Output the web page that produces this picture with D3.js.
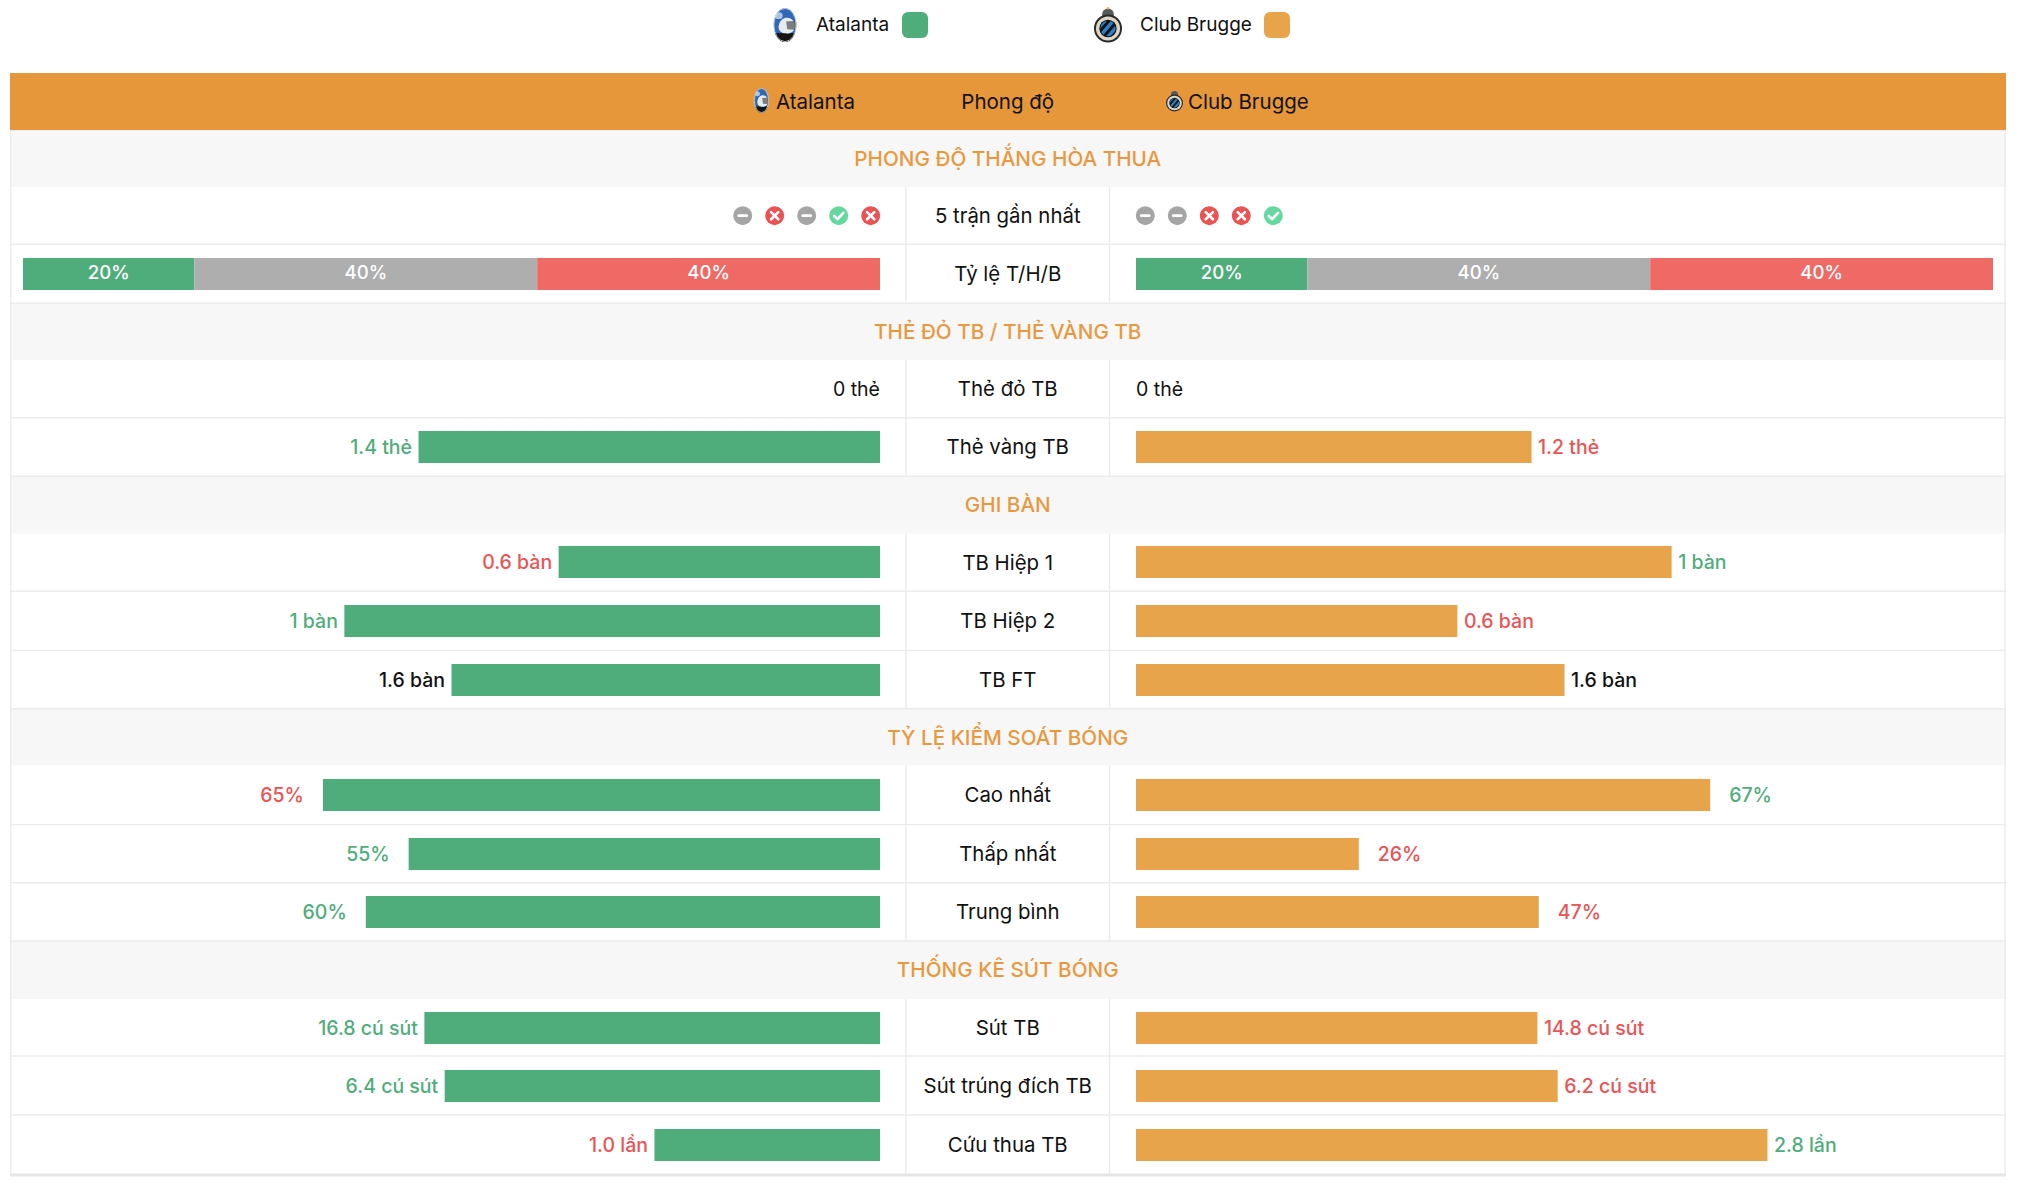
<!DOCTYPE html>
<html lang="vi">
<head>
<meta charset="utf-8">
<title>Atalanta - Club Brugge</title>
<script src="https://cdn.jsdelivr.net/npm/d3@7/dist/d3.min.js"></script>
<style>
html,body{margin:0;padding:0;background:#fff;overflow:hidden}
svg{display:block}
text{font-family:Inter,"Noto Sans",sans-serif;-webkit-font-smoothing:antialiased}
</style>
</head>
<body>
<div id="chart"></div>
<script>
// ---------- data ----------
const teams = ["Atalanta", "Club Brugge"];
const headerMiddle = "Phong độ";
const sectionTitles = ["PHONG ĐỘ THẮNG HÒA THUA", "THẺ ĐỎ TB / THẺ VÀNG TB", "GHI BÀN", "TỶ LỆ KIỂM SOÁT BÓNG", "THỐNG KÊ SÚT BÓNG"];
const formLabel = "5 trận gần nhất";
const formA = ["D", "L", "D", "W", "L"];
const formB = ["D", "D", "L", "L", "W"];
const rateLabel = "Tỷ lệ T/H/B";
const rateA = [20, 40, 40];
const rateB = [20, 40, 40];
const cardLabels = ["Thẻ đỏ TB", "Thẻ vàng TB"];
const cardA = [0, 1.4];
const cardB = [0, 1.2];
const cardTexts = [["0 thẻ", "0 thẻ"], ["1.4 thẻ", "1.2 thẻ"]];
const goalLabels = ["TB Hiệp 1", "TB Hiệp 2", "TB FT"];
const goalA = [0.6, 1, 1.6];
const goalB = [1, 0.6, 1.6];
const goalTexts = [["0.6 bàn", "1 bàn"], ["1 bàn", "0.6 bàn"], ["1.6 bàn", "1.6 bàn"]];
const possessionLabels = ["Cao nhất", "Thấp nhất", "Trung bình"];
const possessionA = [65, 55, 60];
const possessionB = [67, 26, 47];
const shotLabels = ["Sút TB", "Sút trúng đích TB", "Cứu thua TB"];
const shotA = [16.8, 6.4, 1.0];
const shotB = [14.8, 6.2, 2.8];
const shotTexts = [["16.8 cú sút", "14.8 cú sút"], ["6.4 cú sút", "6.2 cú sút"], ["1.0 lần", "2.8 lần"]];

// ---------- rows ----------
const metric = (label, a, b, texts, total, gap) => ({type: "metric", label, a, b, texts, total, gap});
const rows = [];
rows.push({type: "section", title: sectionTitles[0]});
rows.push({type: "form", label: formLabel, a: formA, b: formB});
rows.push({type: "rate", label: rateLabel, a: rateA, b: rateB});
rows.push({type: "section", title: sectionTitles[1]});
cardLabels.forEach((l, i) => rows.push(metric(l, cardA[i], cardB[i], cardTexts[i], cardA[i] + cardB[i], 6.5)));
rows.push({type: "section", title: sectionTitles[2]});
goalLabels.forEach((l, i) => rows.push(metric(l, goalA[i], goalB[i], goalTexts[i], goalA[i] + goalB[i], 6.5)));
rows.push({type: "section", title: sectionTitles[3]});
possessionLabels.forEach((l, i) => rows.push(metric(l, possessionA[i], possessionB[i], [possessionA[i] + "%", possessionB[i] + "%"], 100, 19)));
rows.push({type: "section", title: sectionTitles[4]});
shotLabels.forEach((l, i) => rows.push(metric(l, shotA[i], shotB[i], shotTexts[i], shotA[i] + shotB[i], 6.5)));

// ---------- layout ----------
const W = 2020, H = 1188;
const C = {green: "#4fad7b", orange: "#e8a44a", head: "#e6973a", title: "#e8993f", grey: "#aeaeae", red: "#ef6a65",
  txtRed: "#e95454", txtGreen: "#4fad7b", line: "#ebebeb", band: "#f7f7f7", ink: "#111",
  iconGrey: "#a5a5a5", iconRed: "#e85454", iconGreen: "#65d8a0"};
const tableL = 10, tableR = 2006, colL = 906, colR = 1109.5, midX = (colL + colR) / 2;
const leftEdge = 880, rightEdge = 1136, barW = 857, barH = 32;
const headTop = 73, headBottom = 130;
const rowHeights = [57, 57.3, 59, 56.7, 57.7, 58.6, 57.3, 57.6, 59.2, 58.4, 56.7, 59.1, 58.2, 58.2, 58, 57, 59, 60];

const svg = d3.select("#chart").append("svg").attr("width", W).attr("height", H).attr("viewBox", `0 0 ${W} ${H}`);
const share = d3.scaleLinear().domain([0, 1]).range([0, barW]);
const rateScale = d3.scaleLinear().domain([0, 100]).range([0, barW]);
const fs = 19.5;

let cursor = headBottom;
rows.forEach((r, i) => {
  r.h = rowHeights[i];
  r.top = cursor; cursor += r.h; r.mid = r.top + r.h / 2;
  r.barY = Math.round(r.mid - barH / 2);
});
const tableBottom = cursor;

// ---------- crests ----------
function atalanta(g, cx, cy, rx, ry) {
  const id = "a" + Math.round(cx);
  g.append("clipPath").attr("id", id).append("ellipse").attr("cx", cx).attr("cy", cy).attr("rx", rx).attr("ry", ry);
  const c = g.append("g").attr("clip-path", `url(#${id})`);
  c.append("ellipse").attr("cx", cx).attr("cy", cy).attr("rx", rx).attr("ry", ry).attr("fill", "#2f68b5");
  c.append("rect").attr("x", cx - rx).attr("y", cy + ry * .48).attr("width", rx * 2).attr("height", ry).attr("fill", "#141414");
  c.append("path").attr("d", d3.line().curve(d3.curveBasisClosed)([[cx - rx * .55, cy - ry * .1], [cx - rx * .1, cy - ry * .5], [cx + rx * .9, cy - ry * .35], [cx + rx * .9, cy + ry * .45], [cx - rx * .1, cy + ry * .55], [cx - rx * .6, cy + ry * .3]])).attr("fill", "#e8ebee");
  c.append("path").attr("d", d3.line()([[cx + rx * .1, cy - ry * .2], [cx + rx, cy - ry * .25], [cx + rx, cy + ry * .3], [cx + rx * .2, cy + ry * .25]])).attr("fill", "#55585c").attr("opacity", .75);
  c.append("ellipse").attr("cx", cx - rx * .55).attr("cy", cy - ry * .55).attr("rx", rx * .35).attr("ry", ry * .2).attr("fill", "#a9c6ea");
  g.append("ellipse").attr("cx", cx).attr("cy", cy).attr("rx", rx - .4).attr("ry", ry - .4).attr("fill", "none").attr("stroke", "#d6dbe2").attr("stroke-width", .8);
}
function brugge(g, cx, cy, r, crown) {
  const id = "b" + Math.round(cx);
  g.append("circle").attr("cx", cx).attr("cy", cy - r * 1).attr("r", r * .42).attr("fill", "#55585c");
  g.append("circle").attr("cx", cx).attr("cy", cy).attr("r", r).attr("fill", "#2b2b2b");
  g.append("circle").attr("cx", cx).attr("cy", cy).attr("r", r * .86).attr("fill", "#dcd6c4");
  g.append("circle").attr("cx", cx).attr("cy", cy).attr("r", r * .62).attr("fill", "#111");
  g.append("clipPath").attr("id", id).append("circle").attr("cx", cx).attr("cy", cy).attr("r", r * .55);
  const c = g.append("g").attr("clip-path", `url(#${id})`);
  [-.7, -.1, .5].forEach(k => c.append("line")
    .attr("x1", cx + r * (k - .6)).attr("y1", cy + r * .7).attr("x2", cx + r * (k + .6)).attr("y2", cy - r * .7)
    .attr("stroke", "#2c80c8").attr("stroke-width", r * .25));
  if (crown) g.append("circle").attr("cx", cx).attr("cy", cy - r * 1.45).attr("r", 1.3).attr("fill", "#e7b04a");
}

// ---------- legend ----------
const legend = svg.append("g");
atalanta(legend, 785, 25, 11.5, 17);
legend.append("text").attr("x", 816).attr("y", 30.5).attr("font-size", 19).attr("fill", C.ink).text(teams[0]);
legend.append("rect").attr("x", 902).attr("y", 12).attr("width", 26).attr("height", 26).attr("rx", 6).attr("fill", C.green);
brugge(legend, 1108, 28.5, 14, true);
legend.append("text").attr("x", 1140).attr("y", 30.5).attr("font-size", 19).attr("fill", C.ink).text(teams[1]);
legend.append("rect").attr("x", 1264).attr("y", 12).attr("width", 26).attr("height", 26).attr("rx", 6).attr("fill", C.orange);

// ---------- header ----------
const head = svg.append("g");
head.append("rect").attr("x", tableL).attr("y", headTop).attr("width", tableR - tableL).attr("height", headBottom - headTop).attr("fill", C.head);
atalanta(head, 761.5, 100.5, 7.5, 12.5);
head.append("text").attr("x", 776).attr("y", 109).attr("font-size", 20.5).attr("fill", C.ink).text(teams[0]);
head.append("text").attr("x", midX).attr("y", 109).attr("text-anchor", "middle").attr("font-size", 20.5).attr("fill", C.ink).text(headerMiddle);
brugge(head, 1174.5, 103, 8.5, false);
head.append("text").attr("x", 1188).attr("y", 109).attr("font-size", 20.5).attr("fill", C.ink).text(teams[1]);

// ---------- table frame ----------
const body = svg.append("g");
body.selectAll("rect.band").data(rows.filter(r => r.type === "section")).join("rect").attr("class", "band")
  .attr("x", tableL).attr("y", d => d.top).attr("width", tableR - tableL).attr("height", d => d.h).attr("fill", C.band);
body.selectAll("line.rowline").data(rows.filter(r => r.type !== "section")).join("line").attr("class", "rowline")
  .attr("x1", tableL).attr("x2", tableR).attr("y1", d => d.top + d.h).attr("y2", d => d.top + d.h)
  .attr("stroke", C.line).attr("stroke-width", 1.4);
["l", "r"].forEach((s, i) => {
  const x = i ? colR : colL;
  body.selectAll("line.col" + s).data(rows.filter(r => r.type !== "section")).join("line").attr("class", "col" + s)
    .attr("x1", x).attr("x2", x).attr("y1", d => d.top).attr("y2", d => d.top + d.h).attr("stroke", C.line).attr("stroke-width", 1.4);
});
[tableL + .6, tableR - 1].forEach(x => body.append("line").attr("x1", x).attr("x2", x).attr("y1", headBottom).attr("y2", tableBottom).attr("stroke", C.line).attr("stroke-width", 1.4));
body.append("line").attr("x1", tableL).attr("x2", tableR).attr("y1", tableBottom).attr("y2", tableBottom).attr("stroke", "#e6e6e6").attr("stroke-width", 3);
body.append("line").attr("x1", tableL).attr("x2", tableR).attr("y1", headBottom + .5).attr("y2", headBottom + .5).attr("stroke", C.line).attr("stroke-width", 1.2);

// ---------- section titles ----------
svg.selectAll("text.section").data(rows.filter(r => r.type === "section")).join("text").attr("class", "section")
  .attr("x", midX).attr("y", d => d.mid).attr("dy", ".36em").attr("text-anchor", "middle")
  .attr("font-size", 20.7).attr("font-weight", 500).attr("fill", C.title).text(d => d.title);

// ---------- row labels ----------
svg.selectAll("text.rowlabel").data(rows.filter(r => r.type !== "section")).join("text").attr("class", "rowlabel")
  .attr("x", midX).attr("y", d => d.mid).attr("dy", ".36em").attr("text-anchor", "middle")
  .attr("font-size", 20.4).attr("fill", C.ink).text(d => d.label);

// ---------- form icons ----------
function icon(g, cx, cy, kind) {
  const r = 9.5;
  g.append("circle").attr("cx", cx).attr("cy", cy).attr("r", r)
    .attr("fill", kind === "W" ? C.iconGreen : kind === "L" ? C.iconRed : C.iconGrey);
  const stroke = p => g.append("path").attr("d", d3.line()(p)).attr("fill", "none").attr("stroke", "#fff").attr("stroke-width", 2.6).attr("stroke-linecap", "round").attr("stroke-linejoin", "round");
  if (kind === "D") stroke([[cx - 4, cy], [cx + 4, cy]]);
  if (kind === "L") { stroke([[cx - 3.6, cy - 3.6], [cx + 3.6, cy + 3.6]]); stroke([[cx - 3.6, cy + 3.6], [cx + 3.6, cy - 3.6]]); }
  if (kind === "W") stroke([[cx - 4.5, cy + .3], [cx - 1.2, cy + 3.4], [cx + 4.7, cy - 2.8]]);
}
const formRow = rows.find(r => r.type === "form");
const iconStep = d3.scalePoint().domain(d3.range(5)).range([0, 128]);
const iconsG = svg.append("g");
formRow.a.forEach((k, i) => icon(iconsG, 742.7 + iconStep(i), formRow.mid, k));
formRow.b.forEach((k, i) => icon(iconsG, 1145.3 + iconStep(i), formRow.mid, k));

// ---------- result rate bars ----------
const rateRow = rows.find(r => r.type === "rate");
const rateColors = [C.green, C.grey, C.red];
[[rateRow.a, leftEdge - barW], [rateRow.b, rightEdge]].forEach(([vals, x0]) => {
  const stacked = d3.cumsum(vals);
  const g = svg.append("g");
  g.selectAll("rect").data(vals).join("rect")
    .attr("x", (d, i) => x0 + rateScale(stacked[i] - d)).attr("y", rateRow.barY)
    .attr("width", d => rateScale(d)).attr("height", barH).attr("fill", (d, i) => rateColors[i]);
  g.selectAll("text").data(vals).join("text")
    .attr("x", (d, i) => x0 + rateScale(stacked[i] - d / 2)).attr("y", rateRow.mid - 1).attr("dy", ".36em")
    .attr("text-anchor", "middle").attr("font-size", 18.6).attr("font-weight", 500).attr("fill", "#fff").text(d => d + "%");
});

// ---------- metric bars ----------
const metrics = rows.filter(r => r.type === "metric");
const valueColor = (v, o) => v > o ? C.txtGreen : v < o ? C.txtRed : C.ink;
const width = (v, d) => d.total ? share(v / d.total) : 0;
svg.selectAll("rect.barA").data(metrics).join("rect").attr("class", "barA")
  .attr("x", d => leftEdge - width(d.a, d)).attr("y", d => d.barY)
  .attr("width", d => width(d.a, d)).attr("height", barH).attr("fill", C.green);
svg.selectAll("rect.barB").data(metrics).join("rect").attr("class", "barB")
  .attr("x", rightEdge).attr("y", d => d.barY)
  .attr("width", d => width(d.b, d)).attr("height", barH).attr("fill", C.orange);
svg.selectAll("text.valA").data(metrics).join("text").attr("class", "valA")
  .attr("x", d => leftEdge - width(d.a, d) - (d.a ? d.gap : 0)).attr("y", d => d.mid).attr("dy", ".36em")
  .attr("text-anchor", "end").attr("font-size", fs).attr("font-weight", d => d.a === 0 ? 400 : 500)
  .attr("fill", d => valueColor(d.a, d.b)).text(d => d.texts[0]);
svg.selectAll("text.valB").data(metrics).join("text").attr("class", "valB")
  .attr("x", d => rightEdge + width(d.b, d) + (d.b ? d.gap : 0)).attr("y", d => d.mid).attr("dy", ".36em")
  .attr("text-anchor", "start").attr("font-size", fs).attr("font-weight", d => d.b === 0 ? 400 : 500)
  .attr("fill", d => valueColor(d.b, d.a)).text(d => d.texts[1]);
</script>
</body>
</html>
